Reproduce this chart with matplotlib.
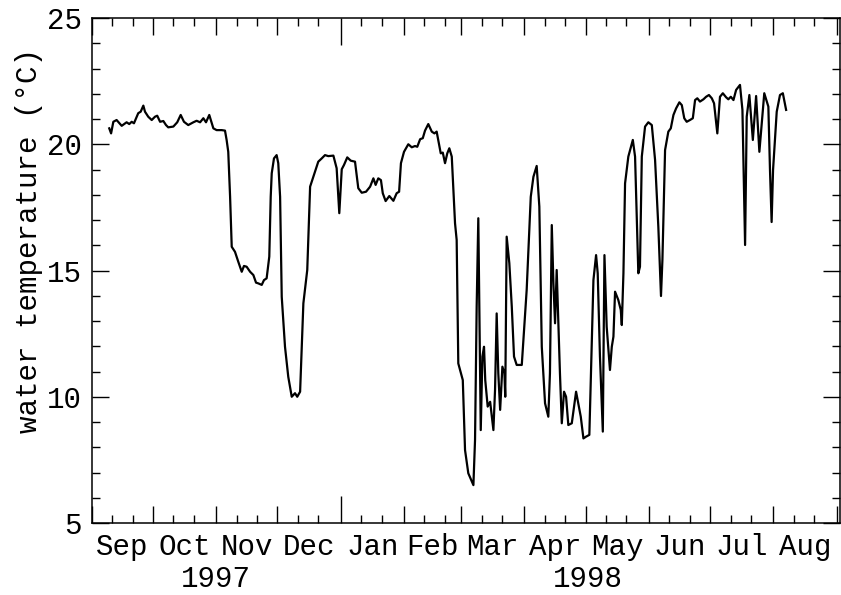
import datetime as dt
import numpy as np
import matplotlib
matplotlib.use("Agg")
import matplotlib.pyplot as plt
import matplotlib.dates as mdates
from matplotlib.ticker import FixedLocator, NullFormatter
from matplotlib.transforms import blended_transform_factory

# ---------------- data ----------------
START = dt.date(1997, 9, 1)

# days since 1 Sep 1997
days = [8.6, 9.5, 10.6, 12.2, 14.7, 17.1, 18.4, 19.6, 20.7, 22.8, 24.0, 25.3, 26.1, 27.7,
        29.4, 31.0, 32.1, 33.5, 35.1, 36.4, 37.5, 40.0, 41.9, 43.6, 45.2, 47.3, 49.8, 51.4,
        53.1, 54.7, 56.0, 57.6, 59.6, 61.2, 63.7, 65.3, 66.1, 66.9, 67.8, 68.6, 69.4, 70.2,
        71.8, 73.5, 74.6, 75.9, 77.6, 79.2, 80.5, 81.6, 83.3, 84.4, 85.7, 87.0, 87.7, 88.2,
        89.3, 90.6, 91.4, 92.3, 93.1, 94.7, 96.3, 98.0, 99.6, 100.7, 102.1, 103.7, 105.6,
        107.0, 109.4, 111.0, 112.7, 114.3, 115.9, 118.4, 120.0, 121.3, 122.5, 123.6, 125.2,
        126.9, 129.0, 130.6, 132.3, 134.4, 136.4, 138.0, 139.1, 140.4, 141.7, 142.6, 144.0,
        145.8, 147.8, 149.4, 150.6, 151.5, 153.0, 155.1, 156.8, 158.4, 159.5, 160.9, 162.2,
        163.3, 164.9, 166.6, 167.9, 169.0, 171.0, 172.0, 173.1, 174.2, 175.2, 176.4, 178.0,
        178.8, 179.6, 181.8, 182.9, 184.5, 187.0, 187.8, 188.6, 189.4, 189.9, 190.6, 191.4,
        192.2, 192.8, 194.0, 195.2, 196.8, 197.6, 198.4, 199.2, 200.1, 201.2, 202.2, 202.6,
        203.3, 204.6, 205.8, 206.9, 208.2, 210.7, 213.1, 215.1, 216.4, 218.0, 219.3, 220.5,
        222.1, 223.7, 224.5, 225.4, 226.2, 227.0, 227.8, 228.6, 229.4, 230.3, 231.4, 232.4,
        233.5, 235.2, 237.3, 239.6, 240.9, 242.2, 243.8, 245.0, 245.8, 247.1, 247.9, 249.0,
        250.4, 251.2, 252.3, 253.9, 254.8, 255.6, 256.4, 258.0, 259.2, 259.7, 260.5, 261.3,
        262.9, 265.1, 266.2, 267.8, 268.6, 269.5, 271.1, 272.7, 274.4, 276.0, 277.6, 278.9,
        279.6, 280.9, 282.5, 283.7, 285.0, 286.3, 287.9, 289.1, 290.3, 291.5, 293.1, 294.5,
        295.6, 296.7, 298.0, 299.7, 301.0, 302.4, 303.8, 304.9, 306.5, 307.8, 309.2, 310.8,
        311.9, 313.1, 314.4, 315.7, 317.6, 318.8, 320.1, 320.9, 322.2, 323.9, 325.5, 327.1,
        329.5, 331.5, 332.3, 333.1, 333.8, 335.6, 337.2, 338.6, 340.2]

# water temperature (deg C)
temp = [20.63, 20.43, 20.89, 20.96, 20.73, 20.87, 20.80, 20.89, 20.83, 21.23, 21.29, 21.53,
        21.29, 21.09, 20.96, 21.09, 21.13, 20.89, 20.92, 20.76, 20.67, 20.70, 20.87, 21.16,
        20.89, 20.76, 20.87, 20.93, 20.87, 21.03, 20.87, 21.16, 20.63, 20.56, 20.56, 20.54,
        20.17, 19.70, 17.92, 15.94, 15.84, 15.74, 15.35, 14.95, 15.18, 15.15, 14.95, 14.82,
        14.52, 14.49, 14.43, 14.62, 14.69, 15.55, 17.92, 18.85, 19.44, 19.57, 19.25, 17.92,
        13.96, 11.98, 10.79, 10.00, 10.14, 10.00, 10.20, 13.70, 15.02, 18.32, 18.91, 19.31,
        19.44, 19.57, 19.53, 19.55, 19.05, 17.27, 19.01, 19.18, 19.48, 19.35, 19.31, 18.26,
        18.08, 18.12, 18.32, 18.65, 18.39, 18.65, 18.58, 18.06, 17.75, 17.95, 17.76, 18.06,
        18.12, 19.25, 19.70, 20.00, 19.88, 19.93, 19.90, 20.20, 20.24, 20.54, 20.80, 20.50,
        20.43, 20.50, 19.64, 19.67, 19.25, 19.64, 19.84, 19.51, 16.87, 16.21, 11.32, 10.66,
        7.89, 6.97, 6.50, 8.29, 13.57, 17.07, 13.57, 8.68, 11.59, 11.98, 10.66, 9.61, 9.80,
        8.68, 10.27, 13.30, 10.93, 9.48, 11.19, 10.93, 10.00, 16.34, 15.29, 13.57, 11.59,
        11.26, 11.26, 14.23, 17.92, 18.71, 19.14, 17.53, 11.98, 9.74, 9.21, 10.93, 16.80,
        14.49, 12.91, 15.02, 12.91, 10.93, 8.95, 10.20, 10.00, 8.88, 8.95, 10.20, 9.21, 8.35,
        8.42, 8.49, 12.25, 14.62, 15.61, 14.89, 11.59, 8.62, 15.61, 12.77, 11.06, 11.98,
        12.38, 14.16, 13.83, 13.44, 12.84, 14.89, 18.45, 19.51, 20.17, 19.51, 14.89, 15.15,
        19.51, 20.70, 20.87, 20.76, 19.38, 16.73, 13.99, 15.42, 19.77, 20.50, 20.63, 21.16,
        21.42, 21.66, 21.55, 21.03, 20.89, 20.96, 21.03, 21.75, 21.82, 21.69, 21.78, 21.88,
        21.95, 21.82, 21.62, 20.43, 21.88, 22.02, 21.86, 21.78, 21.88, 21.75, 22.15, 22.35,
        21.36, 16.01, 21.09, 21.95, 20.17, 21.91, 19.70, 22.02, 21.49, 18.98, 16.92, 18.98,
        21.29, 21.95, 22.02, 21.36]

month_labels = ["Sep", "Oct", "Nov", "Dec", "Jan", "Feb", "Mar", "Apr", "May", "Jun", "Jul", "Aug"]
month_starts = [dt.date(1997, 9, 1), dt.date(1997, 10, 1), dt.date(1997, 11, 1), dt.date(1997, 12, 1),
                dt.date(1998, 1, 1), dt.date(1998, 2, 1), dt.date(1998, 3, 1), dt.date(1998, 4, 1),
                dt.date(1998, 5, 1), dt.date(1998, 6, 1), dt.date(1998, 7, 1), dt.date(1998, 8, 1),
                dt.date(1998, 9, 1)]
year_labels = ["1997", "1998"]
year_label_dates = [dt.date(1997, 11, 1), dt.date(1998, 5, 2)]
y_major = [5, 10, 15, 20, 25]
y_minor = list(range(5, 26))
ylabel_text = "water temperature (\u00b0C)"

# ---------------- plot ----------------
plt.rcParams["font.family"] = ["Liberation Mono", "DejaVu Sans Mono"]

fig = plt.figure(figsize=(8.41, 5.95), dpi=100)
ax = fig.add_axes([91.7 / 841, 1 - 523 / 595, (840 - 91.7) / 841, (523 - 18) / 595])

x0 = mdates.date2num(START)
x = x0 + np.asarray(days)
ax.plot(x, temp, color="black", lw=1.6, solid_joinstyle="round")

ax.set_xlim(x0, mdates.date2num(dt.date(1998, 9, 1)) + 1.6)
ax.set_ylim(5, 25)

major_x = mdates.date2num(month_starts)
minor_x = []
for m in month_starts[:-1]:
    minor_x.append(mdates.date2num(dt.date(m.year, m.month, 11)))
    minor_x.append(mdates.date2num(dt.date(m.year, m.month, 21)))
ax.xaxis.set_major_locator(FixedLocator(major_x))
ax.xaxis.set_minor_locator(FixedLocator(minor_x))
ax.xaxis.set_major_formatter(NullFormatter())
ax.xaxis.set_minor_formatter(NullFormatter())
ax.yaxis.set_major_locator(FixedLocator(y_major))
ax.yaxis.set_minor_locator(FixedLocator(y_minor))
ax.yaxis.set_major_formatter(matplotlib.ticker.FormatStrFormatter("%d"))

ax.tick_params(which="both", direction="in", top=True, right=True, width=1.0, colors="black")
ax.tick_params(which="major", length=12.2)
ax.tick_params(which="minor", length=5.8)
ax.tick_params(axis="y", which="major", labelsize=21, pad=7)
for s in ax.spines.values():
    s.set_linewidth(1.1)

# longer tick at the year boundary
jan_idx = month_starts.index(dt.date(1998, 1, 1))
jt = ax.xaxis.get_major_ticks()[jan_idx]
jt.tick1line.set_markersize(19.4)
jt.tick2line.set_markersize(19.4)

trans = blended_transform_factory(ax.transData, ax.transAxes)
for i, lab in enumerate(month_labels):
    mid = (major_x[i] + major_x[i + 1]) / 2
    ax.text(mid, -0.0634, lab, transform=trans, ha="center", va="baseline", fontsize=21)
for lab, d in zip(year_labels, year_label_dates):
    ax.text(mdates.date2num(d), -0.1267, lab, transform=trans, ha="center", va="baseline", fontsize=21)

ax.set_ylabel(ylabel_text, fontsize=21)
ax.yaxis.set_label_coords(-0.065, 0.56)

fig.savefig("out.png", dpi=100)
